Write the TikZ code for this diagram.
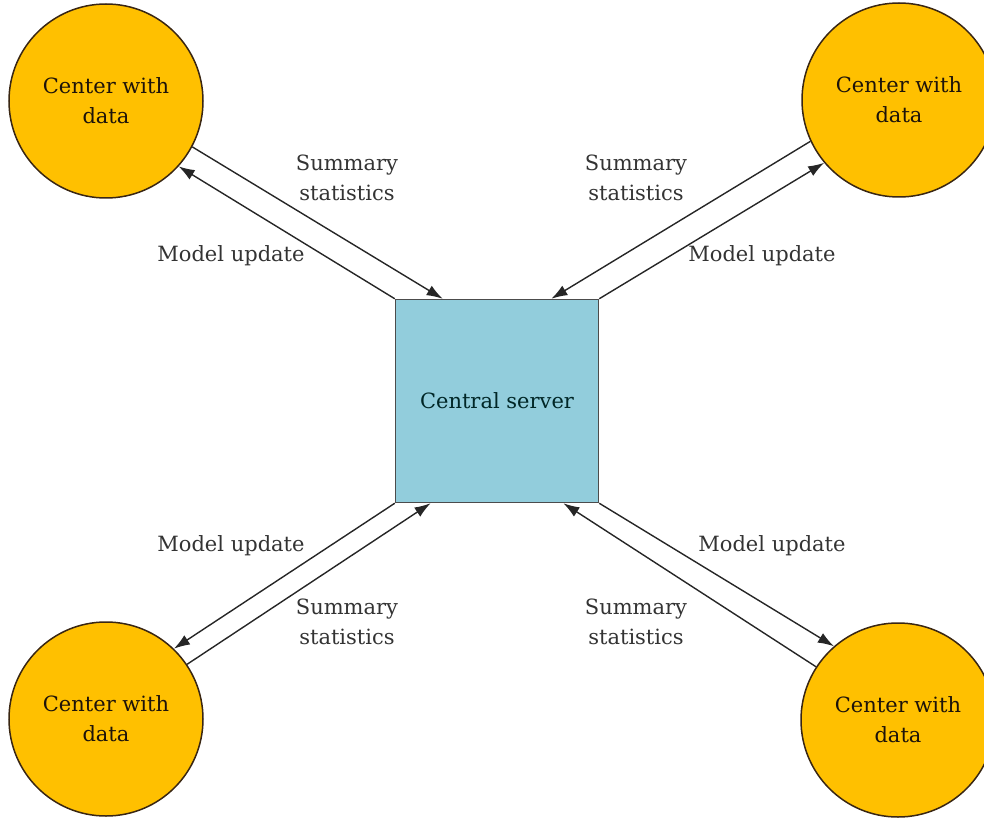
\documentclass[tikz,border=0pt]{standalone}
\usepackage{fontspec}
\setmainfont{DejaVu Serif}
\usetikzlibrary{arrows.meta}
\definecolor{centergold}{HTML}{FFC000}
\definecolor{serverblue}{HTML}{92CDDC}

\begin{document}
\begin{tikzpicture}[x=1pt, y=-1pt, font=\fontsize{21}{30}\selectfont,
    datacenter/.style={circle, draw=black!70!brown, line width=1.5pt, fill=centergold,
      minimum size=194pt, inner sep=0pt, align=center, text=black!85!brown},
    serverbox/.style={rectangle, draw=black!70, line width=1.5pt, fill=serverblue,
      minimum size=203pt, inner sep=0pt, text=black!70!teal},
    msg/.style={align=center, text=black!80},
    flow/.style={line width=1.4pt, black!85, -{Latex[length=16pt, width=11pt]}}]
      \useasboundingbox (0,0) rectangle (984,818);
      % nodes
      \node[serverbox] (server) at (497,401) {Central server};
      \node[datacenter] (tl) at (106,101) {Center with\\data};
      \node[datacenter] (tr) at (899,100) {Center with\\data};
      \node[datacenter] (bl) at (106,719) {Center with\\data};
      \node[datacenter] (br) at (898,720) {Center with\\data};
      % labels
      \node[msg] (sumtl) at (347,178) {Summary\\statistics};
      \node[msg] (modtl) at (231,256) {Model update};
      \node[msg] (sumtr) at (636,178) {Summary\\statistics};
      \node[msg] (modtr) at (762,256) {Model update};
      \node[msg] (modbl) at (231,546) {Model update};
      \node[msg] (sumbl) at (347,622) {Summary\\statistics};
      \node[msg] (modbr) at (772,546) {Model update};
      \node[msg] (sumbr) at (636,622) {Summary\\statistics};
      % arrows
      \draw[flow] (tl.-28) -- (server.118);
      \draw[flow] (server.north west) -- (tl.-42);
      \draw[flow] (tr.-155) -- (server.62);
      \draw[flow] (server.north east) -- (tr.-140);
      \draw[flow] (server.south west) -- (bl.46);
      \draw[flow] (bl.34) -- (server.-123);
      \draw[flow] (server.south east) -- (br.131);
      \draw[flow] (br.147) -- (server.-57);
\end{tikzpicture}
\end{document}
